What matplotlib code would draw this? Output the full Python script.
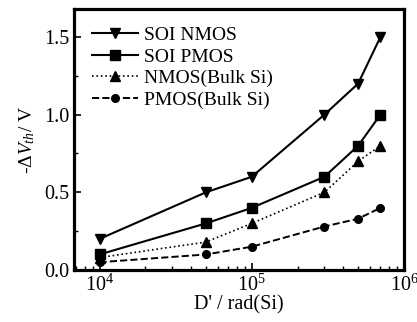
import matplotlib
matplotlib.use("Agg")
import matplotlib.pyplot as plt
from matplotlib.ticker import LogLocator, MultipleLocator, NullFormatter

plt.rcParams['font.family'] = ['Liberation Serif', 'DejaVu Serif']
plt.rcParams['mathtext.fontset'] = 'custom'
plt.rcParams['mathtext.rm'] = 'Liberation Serif'
plt.rcParams['mathtext.it'] = 'Liberation Serif:italic'

# Datos
dosis = [1e4, 5e4, 1e5, 3e5, 5e5, 7e5]
soi_nmos = [0.2, 0.5, 0.6, 1.0, 1.2, 1.5]
soi_pmos = [0.1, 0.3, 0.4, 0.6, 0.8, 1.0]
bulk_nmos = [0.08, 0.18, 0.3, 0.5, 0.7, 0.8]
bulk_pmos = [0.05, 0.1, 0.15, 0.28, 0.33, 0.4]

fig = plt.figure(figsize=(4.17, 3.22), dpi=100)
ax = fig.add_axes([74 / 417, 52 / 322, 330 / 417, 261 / 322])

ax.plot(dosis, soi_nmos, '-', marker='v', color='black', lw=1.5, ms=6.5, label='SOI NMOS')
ax.plot(dosis, soi_pmos, '-', marker='s', color='black', lw=1.5, ms=6.5, label='SOI PMOS')
ax.plot(dosis, bulk_nmos, ':', marker='^', color='black', lw=1.2, ms=6.5, label='NMOS(Bulk Si)')
ax.plot(dosis, bulk_pmos, '--', marker='o', color='black', lw=1.4, ms=5.5, label='PMOS(Bulk Si)')

ax.set_xscale('log')
ax.set_xlim(6800, 1e6)
ax.set_ylim(0, 1.68)
ax.yaxis.set_major_locator(MultipleLocator(0.5))
ax.yaxis.set_minor_locator(MultipleLocator(0.25))
ax.xaxis.set_major_locator(LogLocator(base=10))
ax.xaxis.set_minor_locator(LogLocator(base=10, subs=range(2, 10)))
ax.xaxis.set_minor_formatter(NullFormatter())
ax.yaxis.set_major_formatter(plt.FuncFormatter(lambda v, p: f"{v:.1f}"))

ax.tick_params(which='both', direction='in', labelsize=14.5)
ax.tick_params(which='major', length=5, width=1.2)
ax.tick_params(which='minor', length=3, width=1)
ax.tick_params(axis='x', pad=3)
for s in ax.spines.values():
    s.set_linewidth(2.3)

ax.set_xlabel("D' / rad(Si)", fontsize=14.5, labelpad=0)
ax.set_ylabel(r"-$\Delta$$\it{V}_{th}$/ V", fontsize=14, labelpad=5)

ax.legend(loc='upper left', frameon=False, fontsize=14, handlelength=2.4,
          handletextpad=0.3, labelspacing=0.2, borderaxespad=0.5,
          borderpad=0.4)

plt.savefig("out.png", dpi=100)
plt.close()
